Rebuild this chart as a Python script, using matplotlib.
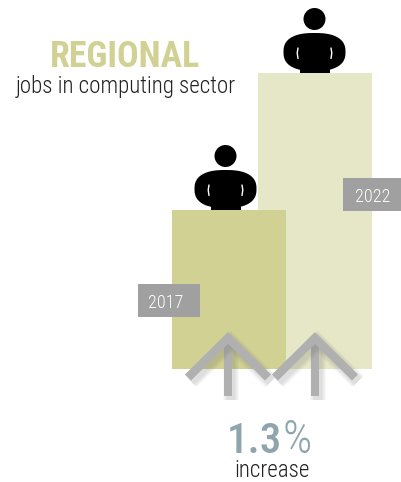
import numpy as np
import matplotlib
matplotlib.use('Agg')
import matplotlib.pyplot as plt
from matplotlib.patches import Circle, Polygon, Rectangle

years = ['2017', '2022']
values = [159, 296]
bar_lefts = [172, 258]
bar_colors = ['#d0d193', '#e5e7c7']
change_text = '1.3'

narrow = 'Roboto Condensed'

fig = plt.figure(figsize=(4.01, 4.82), dpi=100)
ax = fig.add_axes([0, 0, 1, 1])
ax.set_xlim(0, 401)
ax.set_ylim(-113, 369)
ax.axis('off')

# Barras
ax.bar(bar_lefts[1], values[1], width=114, align='edge', color=bar_colors[1], zorder=1)
ax.bar(bar_lefts[0], values[0], width=114, align='edge', color=bar_colors[0], zorder=2)


def person(cx, top):
    t = np.linspace(0, 2 * np.pi, 200)
    n = 2 / 2.5
    bx = cx + 31 * np.sign(np.cos(t)) * np.abs(np.cos(t)) ** n
    by = top + 21 + 19 * np.sign(np.sin(t)) * np.abs(np.sin(t)) ** n
    ax.add_patch(Polygon(np.c_[bx, by], color='black', lw=0, zorder=3))
    ax.add_patch(Rectangle((cx - 15, top), 30, 8, color='black', lw=0, zorder=3))
    ax.add_patch(Circle((cx, top + 54), 11, color='black', lw=0, zorder=3))
    # rendijas blancas entre brazos y cuerpo
    for s in (-1, 1):
        ax.plot([cx + s * 16.5, cx + s * 17.3, cx + s * 16.5], [top + 25, top + 20, top + 14.5],
                color='white', lw=1.0, zorder=4, solid_capstyle='round')


person(225.5, values[0])
person(314.5, values[1])


def stroke(xs, ys, w, z=6):
    ax.plot(xs, ys, color='#b0b0b0', lw=w * 0.72, solid_joinstyle='miter',
            solid_capstyle='butt', zorder=z)


def shadow(xs, ys, w, z=5):
    xs = np.array(xs) + 3
    ys = np.array(ys) - 4
    for extra in (8, 6, 4, 2, 0):
        ax.plot(xs, ys, color='#606060', alpha=0.045, lw=(w + extra) * 0.72,
                solid_joinstyle='miter', solid_capstyle='butt', zorder=z)


# Flechas
for apex in (228, 315):
    cx = [apex - 40, apex, apex + 40]
    cy = [-8.5, 31, -8.5]
    sx = [apex, apex]
    sy = [31, -27]
    shadow(sx, sy, 8, z=5)
    stroke(sx, sy, 8, z=6)
    shadow(cx, cy, 8.5, z=7)
    stroke(cx, cy, 8.5, z=8)

# Etiquetas de anio
for year, (x0, x1, y0, y1), tx in zip(years, [(138, 200, 52, 85), (343, 401, 158, 191)], [166, 373]):
    ax.add_patch(Rectangle((x0, y0), x1 - x0, y1 - y0, color='#a0a0a0', lw=0, zorder=9))
    ax.text(tx, (y0 + y1) / 2, year, color='white', fontsize=13, family=narrow, fontweight=300,
            ha='center', va='center_baseline', zorder=10)

# Textos
ax.text(125.5, 302, 'REGIONAL', color='#d0d193', fontsize=25.8, fontweight='bold', family=narrow,
        ha='center', va='baseline')
ax.text(126, 276, 'jobs in computing sector', color='#222222', fontsize=16.6, family=narrow, fontweight=300,
        ha='center', va='baseline')
ax.text(254, -84, change_text, color='#8fa5ad', fontsize=31, fontweight=500, family=narrow,
        ha='center', va='baseline')
ax.text(297.5, -84, '%', color='#8fa5ad', fontsize=33, family=narrow, fontweight=300, ha='center', va='baseline')
ax.text(272, -108, 'increase', color='#222222', fontsize=16.6, family=narrow, fontweight=300, ha='center', va='baseline')

fig.savefig('out.png', dpi=100)
